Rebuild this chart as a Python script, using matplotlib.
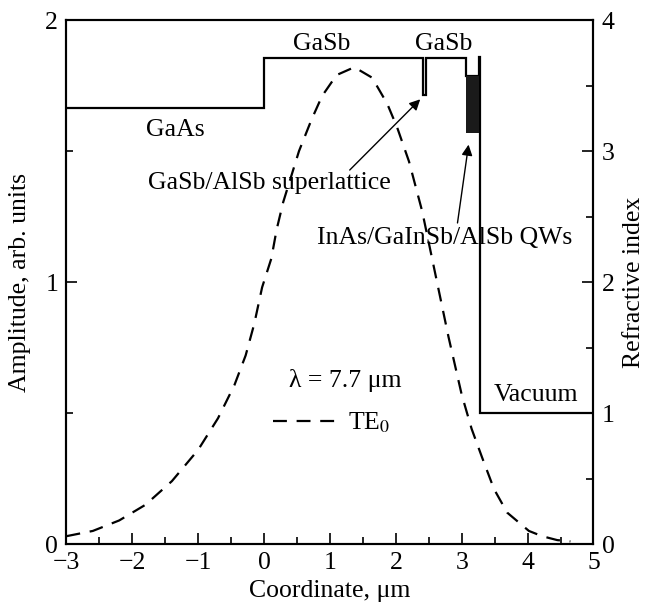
import numpy as np
import matplotlib
matplotlib.use("Agg")
import matplotlib.pyplot as plt
from matplotlib.ticker import MultipleLocator

plt.rcParams['font.family'] = ['Liberation Serif', 'DejaVu Serif']
plt.rcParams['mathtext.fontset'] = 'stix'
plt.rcParams['font.size'] = 18.5
plt.rcParams['lines.scale_dashes'] = False

# TE0 mode amplitude (arb. units) vs coordinate (um)
mode_x = [-3.0, -2.6, -2.2, -1.8, -1.4, -1.0, -0.7, -0.45, -0.28, -0.15, -0.03,
          0.11, 0.19, 0.29, 0.53, 0.72, 0.88, 1.10, 1.37, 1.64, 1.87, 2.02,
          2.2, 2.4, 2.6, 2.8, 3.0, 3.15, 3.31, 3.49, 3.69, 4.02, 4.22, 4.45, 4.65]
mode_amp = [0.03, 0.05, 0.09, 0.15, 0.24, 0.36, 0.48, 0.607, 0.72, 0.84, 0.98,
            1.09, 1.20, 1.305, 1.50, 1.62, 1.71, 1.79, 1.82, 1.78, 1.68, 1.59,
            1.46, 1.27, 1.03, 0.79, 0.57, 0.44, 0.33, 0.21, 0.12, 0.05, 0.03, 0.015, 0.01]

# refractive index profile (layer edges and index of each layer)
layer_edges = [-3.0, 0.0, 2.41, 2.46, 3.06, 3.26, 3.28, 5.0]
layer_n = [3.33, 3.71, 3.43, 3.71, 3.57, 3.72, 1.0]
# QW stack shown as black block
qw_x = [3.06, 3.26]
qw_lo, qw_hi = 3.14, 3.57

fig = plt.figure(figsize=(6.5, 6.15), dpi=100)
ax = fig.add_axes([0.1023, 0.1154, 0.8107, 0.852])
ax2 = ax.twinx()

ax.plot(mode_x, mode_amp, color='k', lw=1.6, linestyle=(0, (10, 7)), label='TE$_0$')

ax2.stairs(layer_n, layer_edges, baseline=None, color='k', lw=1.6)
ax2.fill_between(qw_x, qw_lo, qw_hi, color='#1a1a1a', lw=0)

ax.set_xlim(-3, 5)
ax.set_ylim(0, 2)
ax2.set_ylim(0, 4)

ax.xaxis.set_major_locator(MultipleLocator(1))
ax.xaxis.set_minor_locator(MultipleLocator(0.5))
ax.yaxis.set_major_locator(MultipleLocator(1))
ax.yaxis.set_minor_locator(MultipleLocator(0.5))
ax2.yaxis.set_major_locator(MultipleLocator(1))
ax2.yaxis.set_minor_locator(MultipleLocator(0.5))

for a in (ax, ax2):
    a.tick_params(which='major', direction='in', length=8, width=1.2, pad=6)
    a.tick_params(which='minor', direction='in', length=5, width=1.2)
    for s in a.spines.values():
        s.set_linewidth(1.5)

ax.set_xlabel('Coordinate, μm', labelpad=4)
ax.set_ylabel('Amplitude, arb. units', labelpad=10)
ax2.set_ylabel('Refractive index', labelpad=6)

# labels
ax2.text(-1.35, 3.16, 'GaAs', ha='center', va='center')
ax2.text(0.88, 3.82, 'GaSb', ha='center', va='center')
ax2.text(2.73, 3.82, 'GaSb', ha='center', va='center')
ax2.text(-1.77, 2.755, 'GaSb/AlSb superlattice', ha='left', va='center')
ax2.text(0.81, 2.34, 'InAs/GaInSb/AlSb QWs', ha='left', va='center')
ax2.text(3.49, 1.137, 'Vacuum', ha='left', va='center')
ax.text(0.38, 0.626, 'λ = 7.7 μm', ha='left', va='center')

ax2.annotate('', xy=(2.40, 3.41), xytext=(1.27, 2.84),
             arrowprops=dict(arrowstyle='-|>', color='k', lw=1, mutation_scale=16))
ax2.annotate('', xy=(3.11, 3.07), xytext=(2.93, 2.43),
             arrowprops=dict(arrowstyle='-|>', color='k', lw=1, mutation_scale=16))

ax.legend(loc='center left', bbox_to_anchor=(0.391, 0.231), frameon=False,
          borderpad=0, borderaxespad=0, handlelength=2.5, handletextpad=0.45)

fig.savefig('out.png', dpi=100)
